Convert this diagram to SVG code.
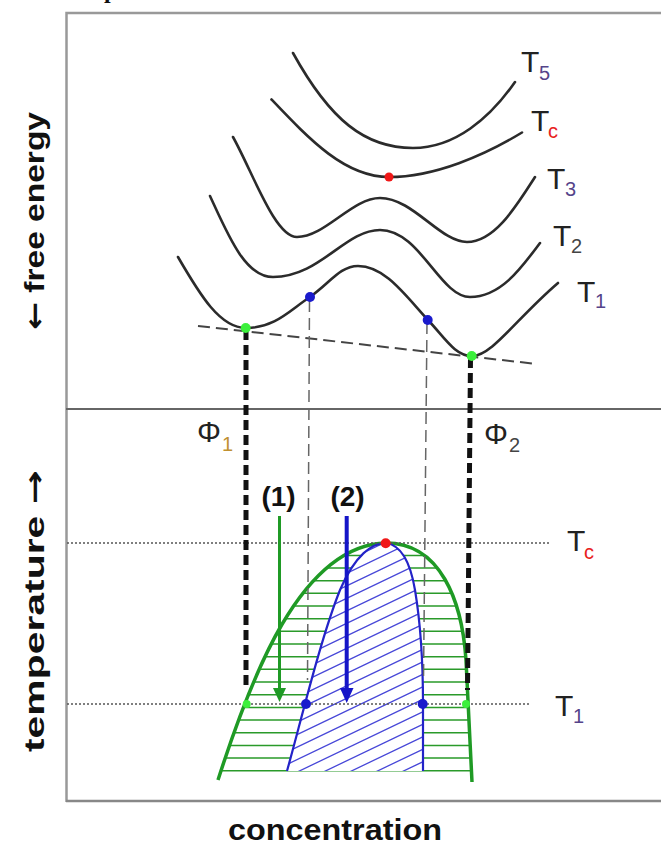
<svg xmlns="http://www.w3.org/2000/svg" width="661" height="846" viewBox="0 0 661 846">
<style>
.frame{stroke:#999;stroke-width:2.5;fill:none}
.curve{stroke:#2b2b2b;stroke-width:2.6;fill:none;stroke-linecap:round}
.lbl{font-family:"Liberation Sans",Arial,sans-serif;font-size:30px;fill:#222}
.sub{font-family:"Liberation Sans",Arial,sans-serif;font-size:20px}
.ax{font-family:"Liberation Sans",Arial,sans-serif;font-weight:bold;fill:#111}
.arw{font-family:"DejaVu Sans",sans-serif;font-weight:bold}
.thick{stroke:#111;stroke-width:5;stroke-dasharray:10 5;fill:none}
.thin{stroke:#666;stroke-width:1.5;stroke-dasharray:12 6;fill:none}
.dot{stroke:#555;stroke-width:1.6;stroke-dasharray:2 2;fill:none}
.gh{stroke:#2a9a2a;stroke-width:1.5;fill:none}
.bh{stroke:#4848d8;stroke-width:1.3;fill:none}
</style>
<defs>
<clipPath id="binClip"><path d="M218,780 C250,680 300,545 386,543 C440,543 462,600 466,660 C468,700 470,740 472,782 Z"/></clipPath>
<clipPath id="spiClip"><path d="M287,771 C300,725 320,640 340,590 C355,555 372,543 386,543 C400,545 410,560 415,590 C420,620 423,660 423,704 L423,771 Z"/></clipPath>
</defs>
<rect width="661" height="846" fill="#fff"/>
<text x="104" y="-2" font-family="Liberation Serif,serif" font-weight="bold" font-size="24" fill="#111">p</text>
<g id="frame">
<path class="frame" d="M66.5,802 V13 H661"/>
<line x1="66" y1="409" x2="661" y2="409" stroke="#666" stroke-width="2"/>
<line x1="66" y1="801" x2="661" y2="801" stroke="#888" stroke-width="2.5"/>
</g>
<g id="axis-labels">
<text class="ax" font-size="28" transform="translate(44,330) rotate(-90)" textLength="218" lengthAdjust="spacingAndGlyphs"><tspan class="arw">←</tspan> free energy</text>
<text class="ax" font-size="28" transform="translate(44,752) rotate(-90)" textLength="282" lengthAdjust="spacingAndGlyphs">temperature <tspan class="arw">→</tspan></text>
<text class="ax" font-size="30" x="228" y="840" textLength="214" lengthAdjust="spacingAndGlyphs">concentration</text>
</g>
<g id="free-energy-curves">
<path id="curve-T5" class="curve" d="M293,53 C330,120 365,148 413,148 C455,148 490,118 515,82"/>
<path id="curve-Tc" class="curve" d="M271.5,99.5 C310,140 345,177 389,177 C435,177 485,155 522,132.5"/>
<path id="curve-T3" class="curve" d="M233,137 C253,173 275,237 297,237 C325,237 352,198 380,198 C413,198 440,242 467,242 C495,242 517,205 535,177"/>
<path id="curve-T2" class="curve" d="M210,196 C228,235 245,277 273,277 C320,277 345,230 380,230 C420,230 440,297 470,297 C500,297 520,270 540,243"/>
<path id="curve-T1" class="curve" d="M178,257 C200,295 220,328 246,328 C275,328 290,310 310,297 C330,283 340,266 358,266 C385,266 405,295 428,320 C445,338 455,356 472,356 C492,356 515,320 558,283"/>
</g>
<g id="curve-labels">
<text class="lbl" x="521" y="72">T</text><text class="sub" x="539" y="80" fill="#55448a">5</text>
<text class="lbl" x="531" y="131" fill="#e82020">T</text><text class="sub" x="548" y="138" fill="#e82020">c</text>
<text class="lbl" x="547" y="189">T</text><text class="sub" x="565" y="196" fill="#55448a">3</text>
<text class="lbl" x="553" y="246">T</text><text class="sub" x="571" y="253" fill="#444">2</text>
<text class="lbl" x="577" y="302">T</text><text class="sub" x="595" y="308" fill="#55448a">1</text>
<text class="lbl" x="197" y="442" font-size="29">Φ</text><text class="sub" x="222" y="451" font-size="21" fill="#c09030">1</text>
<text class="lbl" x="484" y="444" font-size="29">Φ</text><text class="sub" x="509" y="452" font-size="21" fill="#444">2</text>
<text class="lbl" x="567" y="551" fill="#e82020">T</text><text class="sub" x="584" y="559" fill="#e82020">c</text>
<text class="lbl" x="555" y="716">T</text><text class="sub" x="573" y="723" fill="#55448a">1</text>
</g>
<g id="phase-diagram">
<g clip-path="url(#binClip)">
<path class="gh" d="M200,770.7H480M200,758H480M200,745.4H480M200,732.7H480M200,720H480M200,707.4H480M200,694.7H480M200,682H480M200,669.3H480M200,656.7H480M200,644H480M200,631.3H480M200,618.7H480M200,606H480M200,593.3H480M200,580.7H480M200,568H480M200,555.4H480"/>
</g>
<path d="M287,771 C300,725 320,640 340,590 C355,555 372,543 386,543 C400,545 410,560 415,590 C420,620 423,660 423,704 L423,771 Z" fill="#fff"/>
<g clip-path="url(#spiClip)">
<path class="bh" d="M280,592.8L430,520.8M280,605.3L430,533.3M280,617.8L430,545.8M280,630.3L430,558.3M280,642.8L430,570.8M280,655.3L430,583.3M280,667.8L430,595.8M280,680.3L430,608.3M280,692.8L430,620.8M280,705.3L430,633.3M280,717.8L430,645.8M280,730.3L430,658.3M280,742.8L430,670.8M280,755.3L430,683.3M280,767.8L430,695.8M280,780.3L430,708.3M280,792.8L430,720.8M280,805.3L430,733.3M280,817.8L430,745.8M280,830.3L430,758.3M280,842.8L430,770.8"/>
</g>
<path id="binodal" d="M218,780 C250,680 300,545 386,543 C440,543 462,600 466,660 C468,700 470,740 472,782" stroke="#1f9a25" stroke-width="3.5" fill="none"/>
<path id="spinodal" d="M287,771 C300,725 320,640 340,590 C355,555 372,543 386,543 C400,545 410,560 415,590 C420,620 423,660 423,704 L423,771" stroke="#2323c8" stroke-width="2.2" fill="none"/>
</g>
<g id="connectors">
<line class="dot" x1="67" y1="543" x2="550" y2="543"/>
<line class="dot" x1="67" y1="704" x2="530" y2="704"/>
<line x1="198" y1="326" x2="537" y2="364" stroke="#444" stroke-width="2" stroke-dasharray="12 6"/>
<line class="thick" x1="246" y1="330" x2="246" y2="690"/>
<line class="thick" x1="470.5" y1="358" x2="467.5" y2="690"/>
<line class="thin" x1="309.5" y1="300" x2="307.5" y2="680"/>
<line class="thin" x1="427" y1="322" x2="423.5" y2="680"/>
<line x1="279.5" y1="516" x2="279.5" y2="692" stroke="#1f9a25" stroke-width="3"/>
<polygon points="273,688 286,688 279.5,702" fill="#1f9a25"/>
<line x1="346.7" y1="516" x2="346.7" y2="692" stroke="#1515c8" stroke-width="4"/>
<polygon points="340,688 353.5,688 346.7,703" fill="#1515c8"/>
</g>
<g id="step-labels">
<text class="ax" x="278.5" y="506" font-size="28" text-anchor="middle" fill="#2a9a2a">(1)</text>
<text class="ax" x="347.5" y="506" font-size="28" text-anchor="middle" fill="#2020c0">(2)</text>
</g>
<g id="points">
<circle cx="389" cy="177" r="4.5" fill="#f01818"/>
<circle cx="310" cy="297" r="5" fill="#1a1acc"/>
<circle cx="427.7" cy="320" r="5" fill="#1a1acc"/>
<circle cx="245.7" cy="328" r="5" fill="#3cf03c"/>
<circle cx="471.7" cy="356" r="5" fill="#3cf03c"/>
<circle cx="385.7" cy="543.3" r="5" fill="#f01818"/>
<circle cx="246.7" cy="704" r="4" fill="#3cf03c"/>
<circle cx="306" cy="704" r="5" fill="#1a1acc"/>
<circle cx="422.7" cy="704" r="5" fill="#1a1acc"/>
<circle cx="466" cy="704" r="4" fill="#3cf03c"/>
</g>
</svg>
